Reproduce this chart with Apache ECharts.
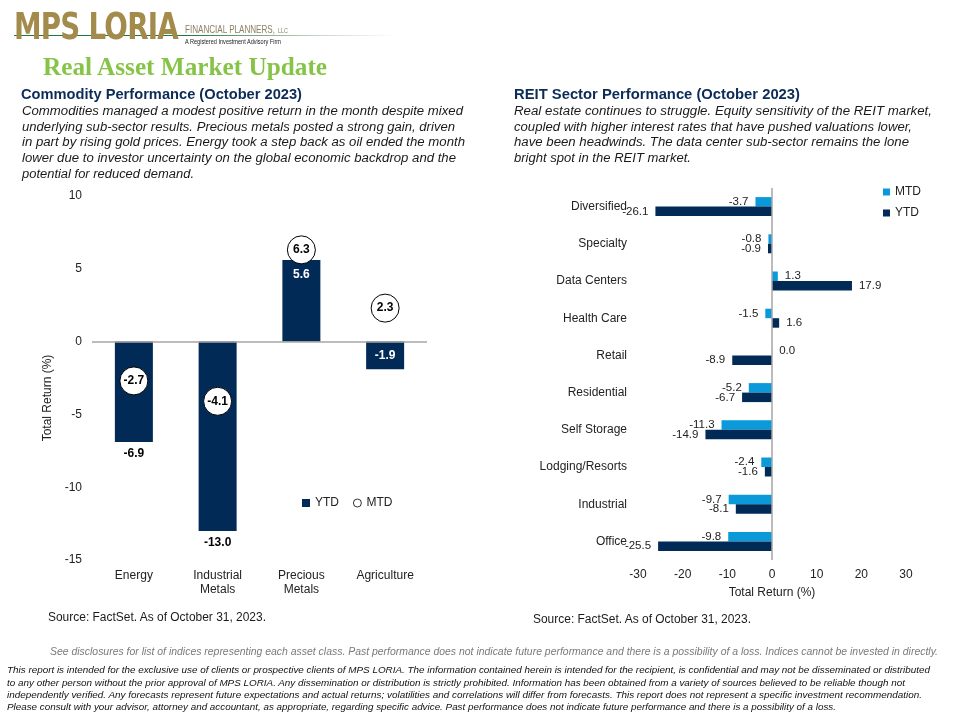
<!DOCTYPE html>
<html>
<head>
<meta charset="utf-8">
<script src="https://cdn.jsdelivr.net/npm/echarts@6/dist/echarts.min.js"></script>
<style>
  html,body{margin:0;padding:0;background:#fff;width:960px;height:720px;overflow:hidden;font-family:"Liberation Sans",Arial,sans-serif;}
  .t{position:absolute;white-space:nowrap;line-height:1;transform-origin:0 50%;}
  #left{position:absolute;left:0;top:0;width:480px;height:720px;}
  #right{position:absolute;left:480px;top:0;width:480px;height:720px;}
  #gline{position:absolute;left:14px;top:34.5px;width:382px;height:1.6px;background:linear-gradient(to right,#1d7a3c 0%,#1d7a3c 45%,#c9d6c9 80%,rgba(255,255,255,0) 100%);}
</style>
</head>
<body>
<div id="left"></div>
<div id="right"></div>
<div id="gline"></div>
<div id="texts"></div>
<script>
// ---------- data ----------
const commodityCats = ['Energy', 'Industrial\nMetals', 'Precious\nMetals', 'Agriculture'];
const commodityYTD = [-6.9, -13.0, 5.6, -1.9];
const commodityMTD = [-2.7, -4.1, 6.3, 2.3];
const commodityMin = -15, commodityMax = 10, commodityStep = 5;

const reitCats = ['Diversified', 'Specialty', 'Data Centers', 'Health Care', 'Retail', 'Residential', 'Self Storage', 'Lodging/Resorts', 'Industrial', 'Office'];
const reitMTD = [-3.7, -0.8, 1.3, -1.5, 0.04, -5.2, -11.3, -2.4, -9.7, -9.8];
const reitYTD = [-26.1, -0.9, 17.9, 1.6, -8.9, -6.7, -14.9, -1.6, -8.1, -25.5];
const reitMin = -30, reitMax = 30, reitStep = 10;

// ---------- styles ----------
const NAVY = '#022a56';
const LIGHT = '#0a9ad9';
const FONT = '"Liberation Sans", Arial, sans-serif';
const ytdLabelMode = ['outside', 'outside', 'insideTop', 'inside'];

// ---------- texts ----------
const texts = document.getElementById('texts');
function line(x, cy, txt, css, w) {
  const d = document.createElement('div');
  d.className = 't';
  d.textContent = txt;
  d.style.left = x + 'px';
  Object.assign(d.style, css);
  texts.appendChild(d);
  d.style.top = (cy - d.getBoundingClientRect().height / 2) + 'px';
  if (w) {
    const r = w / d.getBoundingClientRect().width;
    d.style.transform = 'scaleX(' + r + ')';
  }
  return d;
}
// logo
line(14, 26, 'MPS LORIA', {fontFamily:'"DejaVu Sans",sans-serif', fontWeight:'bold', fontSize:'37px', color:'#a38b4c', letterSpacing:'-1px'}, 164);
line(185, 29, 'FINANCIAL PLANNERS,', {fontFamily:FONT, fontSize:'11px', color:'#8c7f62'}, 90);
line(278, 30, 'LLC', {fontFamily:FONT, fontSize:'7px', color:'#8c7f62'}, 10);
line(185, 42, 'A Registered Investment Advisory Firm', {fontFamily:FONT, fontSize:'6.5px', color:'#222'}, 96);
line(43, 66, 'Real Asset Market Update', {fontFamily:'"Liberation Serif",serif', fontWeight:'bold', fontSize:'25px', color:'#86c447'}, 284);

// left heading + paragraph
const H = {fontFamily:FONT, fontWeight:'bold', fontSize:'14px', color:'#0c2b57'};
const P = {fontFamily:FONT, fontStyle:'italic', fontSize:'12.5px', color:'#1a1a1a'};
line(21, 94, 'Commodity  Performance (October 2023)', H, 281);
const lp = [
  ['Commodities managed  a modest positive return  in the month despite mixed', 441],
  ['underlying  sub-sector results. Precious metals posted a strong gain, driven', 433],
  ['in part by rising gold prices. Energy  took a step back as oil ended  the month', 443],
  ['lower  due to investor uncertainty on the global economic backdrop and  the', 434],
  ['potential  for reduced demand.', 172]
];
lp.forEach((l, i) => line(22, 111 + i * 15.8, l[0], P, l[1]));

// right heading + paragraph
line(514, 94, 'REIT Sector Performance (October 2023)', H, 286);
const rp = [
  ['Real estate continues to struggle. Equity sensitivity of the REIT market,', 418],
  ['coupled with higher  interest rates that have pushed valuations lower,', 398],
  ['have been headwinds.  The data center sub-sector remains the lone', 395],
  ['bright spot in the REIT market.', 177]
];
rp.forEach((l, i) => line(514, 111 + i * 15.8, l[0], P, l[1]));

// sources
const S = {fontFamily:FONT, fontSize:'12px', color:'#1a1a1a'};
line(48, 617, 'Source: FactSet. As of October 31, 2023.', S, 218);
line(533, 619, 'Source: FactSet. As of October 31, 2023.', S, 218);

// disclaimers
line(50, 651, 'See disclosures for list of indices representing each asset class. Past performance does not indicate future performance and there is a possibility of a loss. Indices cannot be invested in directly.',
  {fontFamily:FONT, fontStyle:'italic', fontSize:'10.5px', color:'#7a7a7a'}, 888);
const D = {fontFamily:FONT, fontStyle:'italic', fontSize:'9.5px', color:'#111'};
const dl = [
  ['This report is intended for the exclusive use of clients or prospective clients of MPS LORIA. The information contained herein is intended for the recipient, is confidential and may not be disseminated or distributed', 923],
  ['to any other person without the prior approval of MPS LORIA. Any dissemination or distribution is strictly prohibited. Information has been obtained from a variety of sources believed to be reliable though not', 898],
  ['independently verified. Any forecasts represent future expectations and actual returns; volatilities and correlations will differ from forecasts. This report does not represent a specific investment recommendation.', 915],
  ['Please consult with your advisor, attorney and accountant, as appropriate, regarding specific advice. Past performance does not indicate future performance and there is a possibility of a loss.', 829]
];
dl.forEach((l, i) => line(7, 670 + i * 12.4, l[0], D, l[1]));

// ---------- left chart ----------
const fmt = v => (Array.isArray(v) ? v[v.length - 1] : v).toFixed(1);
const left = echarts.init(document.getElementById('left'), null, {renderer:'canvas'});
left.setOption({
  animation: false,
  textStyle: {fontFamily: FONT},
  grid: {left: 92, right: 53, top: 196, bottom: 160},
  xAxis: {
    type: 'category', data: commodityCats,
    axisLine: {show: false}, axisTick: {show: false},
    axisLabel: {color: '#222', fontFamily: FONT, fontSize: 12, margin: 9, lineHeight: 14, interval: 0}
  },
  yAxis: {
    type: 'value', min: commodityMin, max: commodityMax, interval: commodityStep,
    splitLine: {show: false}, axisLine: {show: false}, axisTick: {show: false},
    axisLabel: {color: '#222', fontFamily: FONT, fontSize: 12, margin: 10}
  },
  graphic: [{
    type: 'text', x: 48, y: 398, rotation: Math.PI / 2,
    style: {text: 'Total Return (%)', fill: '#222', font: '12px ' + FONT, align: 'center', verticalAlign: 'middle'}
  }],
  legend: {
    left: 297, top: 492, itemWidth: 8, itemHeight: 8, itemGap: 14,
    textStyle: {fontSize: 12, color: '#222', fontFamily: FONT},
    data: [
      {name: 'YTD', icon: 'rect'},
      {name: 'MTD', icon: 'circle', itemStyle: {color: '#fff', borderColor: '#000', borderWidth: 0.8}}
    ]
  },
  series: [
    {
      name: 'YTD', type: 'bar', barWidth: 38, z: 2,
      itemStyle: {color: NAVY},
      data: commodityYTD.map((v, i) => {
        const m = ytdLabelMode[i];
        return {
          value: v,
          label: {
            show: true, position: m,
            distance: m === 'outside' ? 6 : 9,
            color: m === 'outside' ? '#000' : '#fff',
            fontFamily: FONT, fontWeight: 'bold', fontSize: 12, formatter: p => fmt(p.value)
          }
        };
      }),
      markLine: {
        silent: true, symbol: 'none', label: {show: false},
        lineStyle: {color: '#a6a6a6', width: 1.5, type: 'solid'},
        emphasis: {disabled: true},
        data: [{yAxis: 0}]
      }
    },
    {
      name: 'MTD', type: 'scatter', data: commodityMTD, symbolSize: 28, z: 5,
      itemStyle: {color: '#fff', borderColor: '#000', borderWidth: 1, opacity: 1},
      label: {show: true, position: 'inside', fontFamily: FONT, fontWeight: 'bold', fontSize: 12, color: '#000', formatter: p => fmt(p.value)}
    }
  ]
});

// ---------- right chart ----------
const right = echarts.init(document.getElementById('right'), null, {renderer:'canvas'});
const reitLabel = v => ({
  value: v,
  label: {show: true, position: v < 0 ? 'left' : 'right', distance: 7, color: '#222', fontFamily: FONT, fontSize: 11.5, formatter: p => fmt(p.value)}
});
right.setOption({
  animation: false,
  textStyle: {fontFamily: FONT},
  grid: {left: 158, right: 54, top: 188, bottom: 160},
  xAxis: {
    type: 'value', min: reitMin, max: reitMax, interval: reitStep,
    splitLine: {show: false}, axisLine: {show: false}, axisTick: {show: false},
    axisLabel: {color: '#222', fontFamily: FONT, fontSize: 12, margin: 9},
    name: 'Total Return (%)', nameLocation: 'middle', nameGap: 27,
    nameTextStyle: {color: '#222', fontFamily: FONT, fontSize: 12}
  },
  yAxis: {
    type: 'category', inverse: true, data: reitCats,
    axisLine: {show: false}, axisTick: {show: false},
    axisLabel: {color: '#222', fontFamily: FONT, fontSize: 12, margin: 11, interval: 0}
  },
  legend: {
    orient: 'vertical', left: 398, top: 181, itemWidth: 7, itemHeight: 7, itemGap: 9,
    textStyle: {fontSize: 12, color: '#222', fontFamily: FONT},
    data: [{name: 'MTD', icon: 'rect'}, {name: 'YTD', icon: 'rect'}]
  },
  series: [
    {
      name: 'MTD', type: 'bar', barWidth: 9.5, barGap: '0%', z: 2,
      itemStyle: {color: LIGHT},
      data: reitMTD.map(reitLabel),
      markLine: {
        silent: true, symbol: 'none', label: {show: false},
        lineStyle: {color: '#a6a6a6', width: 1.5, type: 'solid'},
        emphasis: {disabled: true},
        data: [{xAxis: 0}]
      }
    },
    {
      name: 'YTD', type: 'bar', barWidth: 9.5, barGap: '0%', z: 2,
      itemStyle: {color: NAVY},
      data: reitYTD.map(reitLabel)
    }
  ]
});
</script>
</body>
</html>
